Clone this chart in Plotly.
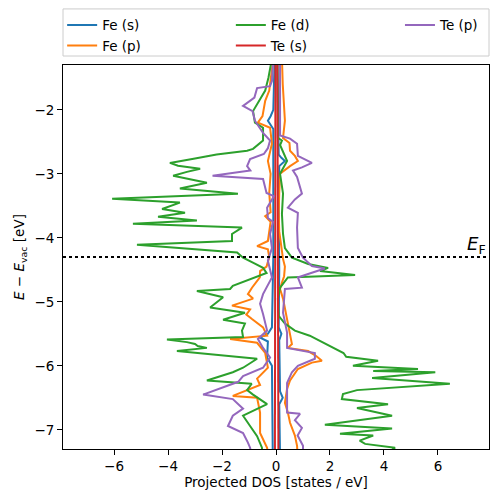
import plotly.graph_objects as go

# ---- data: (energy [eV], projected DOS); spin-down is negative ----
E_FERMI = -4.30

fe_s_up = [(-1.2, 0.05), (-2.7, 0.1), (-2.75, 0.2), (-2.8, 0.33), (-2.88, 0.12), (-3.5, 0.1), (-4.5, 0.12),
           (-5.4, 0.1), (-5.5, 0.2), (-5.6, 0.12), (-6.4, 0.15), (-6.5, 0.25), (-6.6, 0.12), (-7.4, 0.15)]
fe_s_dn = [(-1.2, -0.05), (-2.0, -0.1), (-2.1, -0.2), (-2.17, -0.3), (-2.3, -0.1), (-4.3, -0.1), (-5.4, -0.15),
           (-5.5, -0.3), (-5.56, -0.59), (-5.62, -0.3), (-5.87, -0.33), (-6.0, -0.15), (-7.4, -0.12)]

fe_p_up = [(-1.2, 0.22), (-1.6, 0.25), (-2.17, 0.33), (-2.3, 0.3), (-2.44, 0.26), (-2.52, 0.5), (-2.64, 0.52),
           (-2.72, 0.7), (-2.8, 0.81), (-2.88, 0.52), (-3.0, 0.15), (-3.3, 0.12), (-3.6, 0.1), (-3.9, 0.12),
           (-4.2, 0.2), (-4.33, 0.26), (-4.45, 0.33), (-4.6, 0.3), (-4.7, 0.22), (-4.8, 0.15), (-4.95, 0.26),
           (-5.33, 0.44), (-5.66, 0.59), (-5.72, 0.44), (-5.77, 1.19), (-5.85, 1.5), (-5.92, 1.7), (-5.95, 1.33),
           (-6.05, 0.81), (-6.23, 0.52), (-6.36, 0.41), (-6.58, 0.33), (-6.73, 0.44), (-6.89, 0.52),
           (-7.09, 0.7), (-7.25, 0.78), (-7.4, 0.8)]
fe_p_dn = [(-1.2, -0.1), (-1.7, -0.25), (-1.86, -0.4), (-2.1, -0.5), (-2.2, -0.67), (-2.28, -0.22),
           (-2.53, -0.15), (-2.8, -0.3), (-3.0, -0.2), (-3.3, -0.25), (-3.6, -0.2), (-3.66, -0.4), (-3.75, -0.2),
           (-3.9, -0.25), (-4.05, -0.3), (-4.13, -0.7), (-4.18, -0.3), (-4.3, -0.25), (-4.45, -0.35),
           (-4.52, -0.59), (-4.62, -0.6), (-4.78, -0.89), (-4.88, -1.04), (-4.95, -0.85), (-5.06, -1.63),
           (-5.12, -0.96), (-5.2, -1.1), (-5.27, -0.89), (-5.4, -0.48), (-5.53, -0.33), (-5.58, -1.7),
           (-5.64, -0.7), (-5.8, -0.4), (-6.03, -0.3), (-6.2, -0.7), (-6.3, -0.59), (-6.47, -1.6), (-6.5, -0.7),
           (-6.73, -0.59), (-7.05, -0.59), (-7.28, -0.33), (-7.4, -0.3)]

fe_d_up = [(-1.2, 0.05), (-2.3, 0.07), (-2.44, 0.07), (-2.48, 0.22), (-2.55, 0.15), (-2.8, 0.41), (-3.0, 0.15),
           (-3.31, 0.26), (-3.63, 0.22), (-3.94, 0.26), (-4.16, 0.33), (-4.31, 0.59), (-4.33, 0.7), (-4.41, 1.19),
           (-4.47, 1.93), (-4.52, 1.63), (-4.58, 2.93), (-4.62, 0.44), (-4.78, 0.15), (-4.95, 0.07),
           (-5.22, 0.1), (-5.34, 0.33), (-5.45, 0.7), (-5.53, 1.25), (-5.8, 2.5), (-5.86, 2.6), (-5.92, 3.78),
           (-6.0, 2.85), (-6.05, 5.26), (-6.08, 3.6), (-6.1, 5.9), (-6.19, 3.56), (-6.28, 6.44), (-6.38, 3.0),
           (-6.44, 2.48), (-6.52, 2.44), (-6.6, 4.15), (-6.66, 3.0), (-6.78, 4.3), (-6.92, 1.81), (-6.98, 4.3),
           (-7.06, 2.37), (-7.09, 3.6), (-7.17, 3.1), (-7.22, 3.3), (-7.28, 4.41), (-7.4, 4.0)]
fe_d_dn = [(-1.2, -0.15), (-1.5, -0.28), (-1.70, -0.4), (-1.9, -0.7), (-2.02, -0.85), (-2.2, -0.78),
           (-2.28, -0.48), (-2.48, -0.48), (-2.61, -0.85), (-2.64, -1.07), (-2.70, -2.2), (-2.76, -3.0),
           (-2.83, -3.93), (-2.875, -3.63), (-2.92, -2.81), (-2.97, -3.3), (-3.03, -3.81), (-3.14, -2.56),
           (-3.23, -3.56), (-3.31, -1.41), (-3.39, -6.07), (-3.45, -3.56), (-3.55, -4.22), (-3.61, -3.37),
           (-3.67, -4.37), (-3.73, -2.93), (-3.78, -5.3), (-3.84, -1.26), (-3.94, -1.63), (-4.05, -1.63),
           (-4.08, -3.3), (-4.11, -5.15), (-4.23, -1.44), (-4.31, -1.22), (-4.40, -0.8), (-4.47, -0.48),
           (-4.55, -0.35), (-4.62, -0.8), (-4.75, -1.6), (-4.80, -1.7), (-4.83, -2.93), (-4.93, -1.96),
           (-5.09, -2.44), (-5.17, -1.15), (-5.28, -1.96), (-5.34, -1.15), (-5.45, -1.26), (-5.55, -1.22),
           (-5.59, -4.04), (-5.63, -3.3), (-5.66, -3.0), (-5.69, -2.9), (-5.72, -2.56), (-5.77, -3.67),
           (-5.83, -2.2), (-5.89, -0.7), (-6.03, -1.22), (-6.1, -1.6), (-6.23, -2.56), (-6.28, -0.9),
           (-6.38, -1.07), (-6.45, -0.85), (-6.6, -0.33), (-6.78, -1.22), (-6.94, -0.96), (-7.1, -0.7),
           (-7.28, -0.52), (-7.4, -0.5)]

te_s_up = [(-1.2, 0.05), (-3.0, 0.06), (-5.0, 0.06), (-6.0, 0.08), (-7.0, 0.09), (-7.4, 0.09)]
te_s_dn = [(-1.2, -0.02), (-3.0, -0.02), (-5.0, -0.03), (-6.0, -0.03), (-7.0, -0.04), (-7.4, -0.04)]

te_p_up = [(-1.2, 0.15), (-2.4, 0.15), (-2.45, 0.52), (-2.53, 0.78), (-2.72, 0.81), (-2.83, 1.33),
           (-2.9, 0.96), (-2.95, 0.63), (-3.05, 0.78), (-3.31, 0.96), (-3.4, 0.7), (-3.53, 0.44), (-3.61, 0.81),
           (-3.84, 0.78), (-4.16, 0.81), (-4.31, 1.0), (-4.44, 1.33), (-4.48, 1.81), (-4.55, 1.3), (-4.62, 0.81),
           (-4.78, 0.96), (-4.8, 0.33), (-5.17, 0.26), (-5.48, 0.41), (-5.72, 0.41), (-5.75, 0.81), (-5.8, 1.44),
           (-5.89, 1.44), (-6.0, 0.81), (-6.1, 0.59), (-6.27, 0.41), (-6.73, 0.41), (-6.75, 0.89), (-6.85, 0.7),
           (-6.97, 0.96), (-7.09, 0.8), (-7.25, 1.0), (-7.4, 1.0)]
te_p_dn = [(-1.2, -0.1), (-1.55, -0.15), (-1.63, -0.22), (-1.66, -0.7), (-1.81, -0.8), (-1.94, -1.22),
           (-2.02, -0.87), (-2.17, -0.78), (-2.36, -0.48), (-2.48, -0.22), (-2.6, -0.3), (-2.69, -0.45),
           (-2.77, -0.96), (-2.88, -1.07), (-2.95, -0.95), (-3.03, -2.35), (-3.08, -0.48), (-3.3, -0.35),
           (-3.35, -0.08), (-3.53, -0.33), (-3.69, -0.3), (-3.75, -0.11), (-3.94, -0.22), (-4.16, -0.15),
           (-4.36, -0.3), (-4.62, -0.15), (-4.88, -0.48), (-5.03, -0.59), (-5.19, -0.48), (-5.45, -0.33),
           (-5.58, -0.67), (-5.72, -0.48), (-5.87, -0.22), (-6.03, -0.48), (-6.16, -1.22), (-6.25, -1.4),
           (-6.45, -2.7), (-6.52, -1.6), (-6.67, -1.22), (-6.78, -1.6), (-6.94, -1.78), (-7.05, -1.22),
           (-7.2, -1.04), (-7.28, -0.96), (-7.4, -0.9)]

orbital_names = ["Fe (s)", "Fe (p)", "Fe (d)", "Te (s)", "Te (p)"]
orbital_colors = ["#1f77b4", "#ff7f0e", "#2ca02c", "#d62728", "#9467bd"]
orbital_up = [fe_s_up, fe_p_up, fe_d_up, te_s_up, te_p_up]
orbital_dn = [fe_s_dn, fe_p_dn, fe_d_dn, te_s_dn, te_p_dn]
legend_column = ["legend", "legend", "legend2", "legend2", "legend3"]  # 3 columns, filled column-wise

fig = go.Figure()
for name, color, up, dn, leg in zip(orbital_names, orbital_colors, orbital_up, orbital_dn, legend_column):
    fig.add_trace(go.Scatter(x=[p[1] for p in up], y=[p[0] for p in up], mode="lines", name=name,
                             line=dict(color=color, width=2), legendgroup=name, legend=leg))
    fig.add_trace(go.Scatter(x=[p[1] for p in dn], y=[p[0] for p in dn], mode="lines", name=name,
                             line=dict(color=color, width=2), legendgroup=name, showlegend=False, legend=leg))

fig.add_shape(type="line", xref="paper", x0=0, x1=1, yref="y", y0=E_FERMI, y1=E_FERMI,
              line=dict(color="black", width=2, dash="dot"))
# legend frame (matplotlib-style box spanning the axes width)
fig.add_shape(type="rect", xref="paper", yref="paper", x0=0, x1=1, y0=1.0234, y1=1.146,
              line=dict(color="#cccccc", width=1), fillcolor="rgba(0,0,0,0)", layer="above")
fig.add_annotation(x=7.0, y=E_FERMI, xanchor="left", yanchor="bottom", text="<i>E</i><sub>F</sub>",
                   showarrow=False, font=dict(size=18, color="black"), yshift=-2)

axis_common = dict(showline=True, linecolor="black", linewidth=1, mirror=True, ticks="outside",
                   ticklen=5, tickcolor="black", showgrid=False, zeroline=False,
                   tickfont=dict(size=13.5, color="black"))
fig.update_xaxes(range=[-7.89, 7.89], tickvals=[-6, -4, -2, 0, 2, 4, 6],
                 title=dict(text="Projected DOS [states / eV]", font=dict(size=13.5, color="black"), standoff=4),
                 **axis_common)
fig.update_yaxes(range=[-7.3, -1.3], tickvals=[-7, -6, -5, -4, -3, -2],
                 title=dict(text="<i>E</i> − <i>E</i><sub>vac</sub> [eV]", font=dict(size=13.5, color="black"),
                            standoff=6),
                 **axis_common)

legend_common = dict(orientation="v", xanchor="left", y=1.144, yanchor="top", borderwidth=0,
                     bgcolor="rgba(0,0,0,0)", font=dict(size=13.5), tracegroupgap=0)
fig.update_layout(
    width=498, height=502,
    margin=dict(l=63, r=9, t=65, b=53, autoexpand=False),
    plot_bgcolor="white", paper_bgcolor="white",
    font=dict(family="DejaVu Sans", size=13.5, color="black"),
    showlegend=True,
    legend=dict(x=-0.002, **legend_common),
    legend2=dict(x=0.394, **legend_common),
    legend3=dict(x=0.791, **legend_common),
)

fig.write_html("out.html", config={"displayModeBar": False},
               post_script="document.body.style.margin='0px';")
